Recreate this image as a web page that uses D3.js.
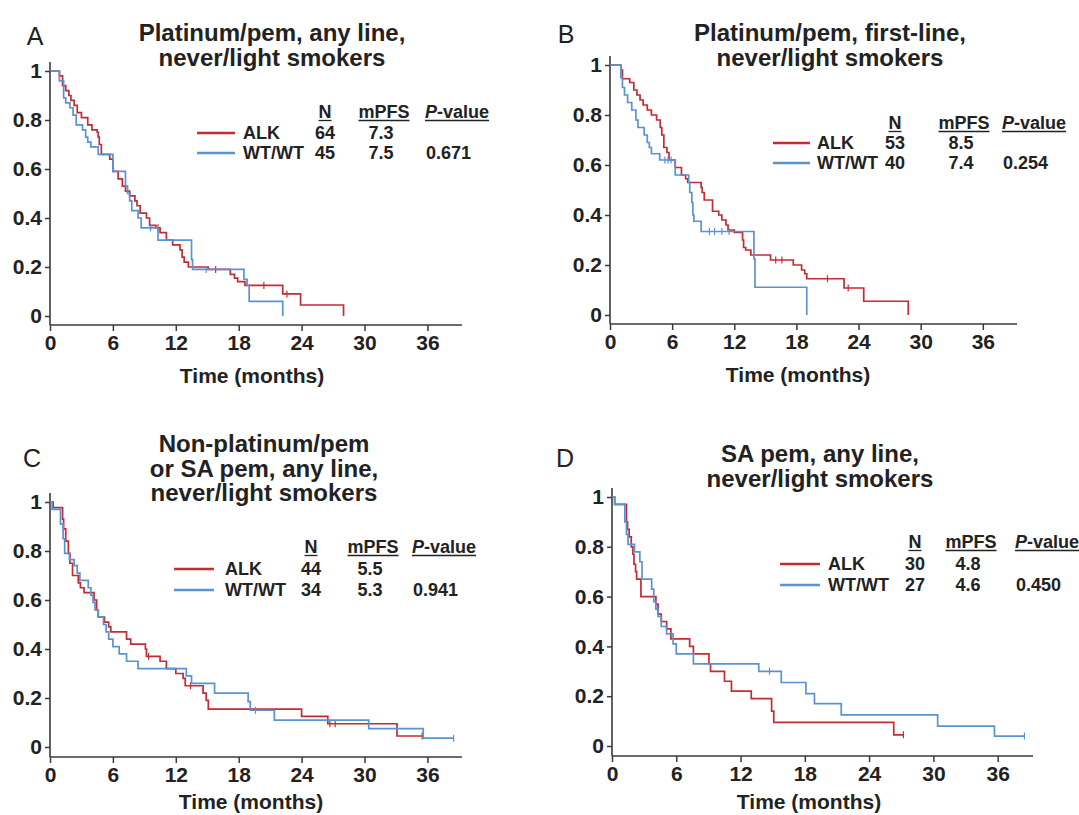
<!DOCTYPE html>
<html>
<head>
<meta charset="utf-8">
<title>PFS by ALK status</title>
<style>
    body { margin: 0; background: #fff; }
    svg { font-family: "Liberation Sans", Arial, Helvetica, sans-serif; }
</style>
</head>
<body>
<svg width="1079" height="815"></svg>
<script src="https://d3js.org/d3.v7.min.js"></script>
<script>
    // ---- data: [time (months), survival after the drop] ----
    var panelLetters = ["A", "B", "C", "D"];
    var panelTitles = [
        ["Platinum/pem, any line,", "never/light smokers"],
        ["Platinum/pem, first-line,", "never/light smokers"],
        ["Non-platinum/pem", "or SA pem, any line,", "never/light smokers"],
        ["SA pem, any line,", "never/light smokers"]
    ];
    var groupNames = ["ALK", "WT/WT"];
    var legendN = [[64, 45], [53, 40], [44, 34], [30, 27]];
    var legendMPFS = [["7.3", "7.5"], ["8.5", "7.4"], ["5.5", "5.3"], ["4.8", "4.6"]];
    var pValues = ["0.671", "0.254", "0.941", "0.450"];
    var xTicks = [0, 6, 12, 18, 24, 30, 36];
    var yTicks = [0, 0.2, 0.4, 0.6, 0.8, 1];

    var alkA = [[0.9,0.98],[1.2,0.94],[1.5,0.92],[1.8,0.90],[2.0,0.88],[2.3,0.86],[2.6,0.83],[3.0,0.81],[3.6,0.78],[4.0,0.76],[4.5,0.75],[4.6,0.73],[4.7,0.70],[4.9,0.66],[5.7,0.64],[6.0,0.59],[6.5,0.56],[6.9,0.53],[7.2,0.51],[7.6,0.49],[8.1,0.47],[8.3,0.45],[8.6,0.42],[9.2,0.40],[9.5,0.37],[10.1,0.36],[10.5,0.34],[11.1,0.31],[11.7,0.29],[12.4,0.27],[12.6,0.24],[12.8,0.22],[13.2,0.20],[15.1,0.19],[17.2,0.17],[17.6,0.155],[17.9,0.14],[18.6,0.125],[22.2,0.09],[23.9,0.045],[28.0,0]];
    var alkAEnd = 28.0, alkACens = [10.3, 15.8, 20.4, 22.6];
    var wtA = [[0.9,0.96],[1.3,0.89],[1.5,0.87],[1.9,0.85],[2.2,0.82],[2.5,0.78],[3.1,0.76],[3.4,0.73],[3.6,0.71],[3.9,0.69],[4.6,0.66],[6.0,0.59],[7.2,0.53],[7.4,0.50],[7.6,0.47],[7.8,0.43],[8.4,0.40],[8.7,0.36],[10.3,0.31],[13.5,0.23],[13.6,0.19],[18.5,0.15],[18.8,0.125],[19.0,0.06],[22.2,0]];
    var wtAEnd = 22.2, wtACens = [9.6, 14.9];

    var alkB = [[1.05,0.98],[1.2,0.945],[1.9,0.93],[2.3,0.90],[2.6,0.88],[2.9,0.86],[3.2,0.84],[3.6,0.82],[4.0,0.80],[4.5,0.78],[4.85,0.75],[5.0,0.72],[5.2,0.67],[5.5,0.65],[5.7,0.62],[6.3,0.59],[6.9,0.56],[7.3,0.545],[7.5,0.53],[8.8,0.51],[8.9,0.49],[9.1,0.46],[9.9,0.415],[10.5,0.40],[10.8,0.38],[11.2,0.36],[11.4,0.34],[12.0,0.33],[12.8,0.30],[12.9,0.27],[13.1,0.26],[13.6,0.24],[15.5,0.22],[17.7,0.20],[18.5,0.18],[18.8,0.165],[19.0,0.145],[22.6,0.108],[24.5,0.055],[28.8,0]];
    var alkBEnd = 28.8, alkBCens = [16.0, 16.6, 21.0, 23.0];
    var wtB = [[1.05,0.95],[1.2,0.91],[1.4,0.88],[1.7,0.85],[2.1,0.82],[2.5,0.78],[2.7,0.75],[3.3,0.72],[3.6,0.69],[3.8,0.67],[4.0,0.645],[4.8,0.62],[6.3,0.56],[7.6,0.53],[7.7,0.49],[7.9,0.45],[8.0,0.40],[8.1,0.375],[8.8,0.334],[13.9,0.224],[14.0,0.111],[19.0,0]];
    var wtBEnd = 19.0, wtBCens = [5.3, 5.6, 5.9, 9.6, 10.1, 10.8, 11.5];

    var alkC = [[0.3,0.977],[1.2,0.93],[1.3,0.89],[1.5,0.84],[1.75,0.79],[1.9,0.75],[2.15,0.70],[2.7,0.67],[2.9,0.65],[3.25,0.63],[4.2,0.60],[4.45,0.56],[4.6,0.53],[5.2,0.51],[5.6,0.49],[5.8,0.47],[7.3,0.44],[7.7,0.42],[9.1,0.40],[9.2,0.37],[10.5,0.35],[11.1,0.32],[12.0,0.30],[12.7,0.28],[12.9,0.25],[14.6,0.22],[14.9,0.19],[15.1,0.155],[24.0,0.125],[26.5,0.095],[33.1,0.045]];
    var alkCEnd = 35.5, alkCCens = [9.4, 13.4, 26.7, 27.2, 35.5];
    var wtC = [[0.2,0.97],[1.0,0.91],[1.25,0.85],[1.4,0.79],[1.85,0.765],[2.3,0.74],[2.6,0.71],[2.85,0.68],[3.65,0.65],[3.9,0.62],[4.1,0.59],[4.3,0.56],[4.6,0.53],[5.1,0.50],[5.35,0.47],[5.6,0.44],[6.0,0.41],[6.6,0.38],[7.3,0.35],[8.4,0.32],[13.0,0.29],[13.5,0.26],[15.7,0.22],[18.9,0.185],[19.1,0.15],[21.4,0.11],[30.4,0.075],[35.6,0.036]];
    var wtCEnd = 38.5, wtCCens = [19.6, 38.5];

    var alkD = [[0.25,0.97],[1.35,0.90],[1.45,0.87],[1.6,0.84],[1.8,0.80],[1.95,0.77],[2.05,0.73],[2.2,0.70],[2.3,0.67],[2.7,0.60],[4.1,0.57],[4.3,0.53],[4.6,0.50],[5.1,0.47],[5.5,0.43],[7.25,0.40],[7.6,0.37],[9.05,0.33],[9.2,0.30],[10.5,0.26],[11.15,0.22],[13.0,0.19],[14.9,0.14],[15.1,0.095],[26.3,0.045]];
    var alkDEnd = 27.2, alkDCens = [27.2];
    var wtD = [[0.25,0.97],[1.2,0.90],[1.35,0.85],[1.5,0.81],[2.1,0.78],[2.6,0.74],[2.8,0.67],[3.7,0.63],[3.9,0.58],[4.1,0.55],[4.3,0.52],[4.6,0.48],[5.1,0.45],[5.7,0.41],[6.0,0.37],[7.6,0.33],[13.7,0.30],[15.8,0.255],[18.1,0.21],[18.9,0.17],[21.4,0.125],[30.4,0.08],[35.7,0.04]];
    var wtDEnd = 38.5, wtDCens = [14.7, 38.5];

    // ---- layout of the four panels (pixels) ----
    var layout = [
        {left: 50,  right: 462,  top: 71,  bottom: 316, axisY: 325, titleX: 272, titleY: 41,  letter: [35, 45],
         axisTitle: [252, 383], leg: {x0: 197, x1: 235, tx: 243, nx: 325, mx: 384, px: 425, hy: 112, r: [133, 153]}},
        {left: 610, right: 1017, top: 65,  bottom: 315, axisY: 324, titleX: 830, titleY: 41,  letter: [566, 43],
         axisTitle: [798, 382], leg: {x0: 773, x1: 810, tx: 817, nx: 895, mx: 964, px: 1002, hy: 123, r: [143, 163]}},
        {left: 50,  right: 462,  top: 502, bottom: 747, axisY: 757, titleX: 264, titleY: 452, letter: [32, 467],
         axisTitle: [251, 809], leg: {x0: 174, x1: 214, tx: 225, nx: 311, mx: 373, px: 412, hy: 547, r: [569, 590]}},
        {left: 612, right: 1033, top: 497, bottom: 746, axisY: 756, titleX: 820, titleY: 462, letter: [565, 467],
         axisTitle: [809, 809], leg: {x0: 780, x1: 820, tx: 828, nx: 915, mx: 971, px: 1015, hy: 542, r: [564, 585]}}
    ];

    var curves = [
        [{steps: alkA, end: alkAEnd, cens: alkACens}, {steps: wtA, end: wtAEnd, cens: wtACens}],
        [{steps: alkB, end: alkBEnd, cens: alkBCens}, {steps: wtB, end: wtBEnd, cens: wtBCens}],
        [{steps: alkC, end: alkCEnd, cens: alkCCens}, {steps: wtC, end: wtCEnd, cens: wtCCens}],
        [{steps: alkD, end: alkDEnd, cens: alkDCens}, {steps: wtD, end: wtDEnd, cens: wtDCens}]
    ];

    var colors = ["#c52b35", "#5a93d2"];
    var axisColor = "#3a3a3a", textColor = "#222";
    var svg = d3.select("svg");

    function survAt(steps, t) {
        var s = 1;
        steps.forEach(function(d) { if (d[0] <= t) s = d[1]; });
        return s;
    }

    layout.forEach(function(L, i) {
        var g = svg.append("g");
        var x = d3.scaleLinear().domain([0, 39.3]).range([L.left, L.right]);
        var y = d3.scaleLinear().domain([0, 1]).range([L.bottom, L.top]);

        // panel letter and title
        g.append("text").attr("x", L.letter[0]).attr("y", L.letter[1])
            .attr("text-anchor", "middle").style("font-size", "25px").attr("fill", textColor)
            .text(panelLetters[i]);
        g.append("text").attr("text-anchor", "middle").style("font-size", "24px")
            .style("font-weight", "bold").attr("fill", textColor)
            .selectAll("tspan").data(panelTitles[i]).enter().append("tspan")
            .attr("x", L.titleX).attr("y", function(d, k) { return L.titleY + k * 24.5; })
            .text(function(d) { return d; });

        // axes
        var yAxis = g.append("g").attr("transform", "translate(" + L.left + ",0)")
            .call(d3.axisLeft(y).tickValues(yTicks).tickSize(5).tickPadding(3)
                .tickFormat(function(d) { return d === 0 || d === 1 ? d3.format("d")(d) : d3.format(".1f")(d); }));
        var xAxis = g.append("g").attr("transform", "translate(0," + L.axisY + ")")
            .call(d3.axisBottom(x).tickValues(xTicks).tickSize(6).tickPadding(4));
        [yAxis, xAxis].forEach(function(a) {
            a.select(".domain").remove();
            a.selectAll("line").attr("stroke", axisColor).attr("stroke-width", 1.5);
            a.selectAll("text").attr("fill", textColor).style("font-size", "21px")
                .style("font-weight", "bold").style("font-family", "'Liberation Sans', Arial, sans-serif");
        });
        g.append("line").attr("x1", L.left).attr("x2", L.left).attr("y1", L.top - 9).attr("y2", L.axisY)
            .attr("stroke", axisColor).attr("stroke-width", 1.6);
        g.append("line").attr("x1", L.left).attr("x2", L.right).attr("y1", L.axisY).attr("y2", L.axisY)
            .attr("stroke", axisColor).attr("stroke-width", 1.6);
        g.append("text").attr("x", L.axisTitle[0]).attr("y", L.axisTitle[1]).attr("text-anchor", "middle")
            .style("font-size", "21px").style("font-weight", "bold").attr("fill", textColor)
            .text("Time (months)");

        // Kaplan-Meier step curves
        var line = d3.line().x(function(d) { return x(d[0]); }).y(function(d) { return y(d[1]); })
            .curve(d3.curveStepAfter);
        curves[i].forEach(function(c, k) {
            var pts = [[0, 1]].concat(c.steps);
            pts.push([c.end, c.steps[c.steps.length - 1][1]]);
            g.append("path").attr("d", line(pts)).attr("fill", "none")
                .attr("stroke", colors[k]).attr("stroke-width", 1.7);
            g.selectAll(null).data(c.cens).enter().append("line")
                .attr("x1", function(t) { return x(t); }).attr("x2", function(t) { return x(t); })
                .attr("y1", function(t) { return y(survAt(c.steps, t)) - 3.5; })
                .attr("y2", function(t) { return y(survAt(c.steps, t)) + 3.5; })
                .attr("stroke", colors[k]).attr("stroke-width", 1.2);
        });

        // legend table
        var leg = L.leg;
        var lg = g.append("g").style("font-size", "18px").style("font-weight", "bold").attr("fill", textColor);
        var headers = [
            {x: leg.nx, anchor: "middle", parts: [["N", "normal"]]},
            {x: leg.mx, anchor: "middle", parts: [["mPFS", "normal"]]},
            {x: leg.px, anchor: "start", parts: [["P", "italic"], ["-value", "normal"]]}
        ];
        headers.forEach(function(h) {
            var t = lg.append("text").attr("x", h.x).attr("y", leg.hy).attr("dy", "0.35em")
                .attr("text-anchor", h.anchor);
            h.parts.forEach(function(p) { t.append("tspan").style("font-style", p[1]).text(p[0]); });
            var b = t.node().getBBox();
            lg.append("line").attr("x1", b.x).attr("x2", b.x + b.width)
                .attr("y1", leg.hy + 8.5).attr("y2", leg.hy + 8.5)
                .attr("stroke", textColor).attr("stroke-width", 1.3);
        });
        groupNames.forEach(function(name, k) {
            var ry = leg.r[k];
            lg.append("line").attr("x1", leg.x0).attr("x2", leg.x1).attr("y1", ry).attr("y2", ry)
                .attr("stroke", colors[k]).attr("stroke-width", 2.5);
            lg.append("text").attr("x", leg.tx).attr("y", ry).attr("dy", "0.35em").text(name);
            lg.append("text").attr("x", leg.nx).attr("y", ry).attr("dy", "0.35em")
                .attr("text-anchor", "middle").text(legendN[i][k]);
            lg.append("text").attr("x", leg.mx - 3).attr("y", ry).attr("dy", "0.35em")
                .attr("text-anchor", "middle").text(legendMPFS[i][k]);
        });
        lg.append("text").attr("x", leg.px + 1).attr("y", leg.r[1]).attr("dy", "0.35em").text(pValues[i]);
    });
</script>
</body>
</html>
